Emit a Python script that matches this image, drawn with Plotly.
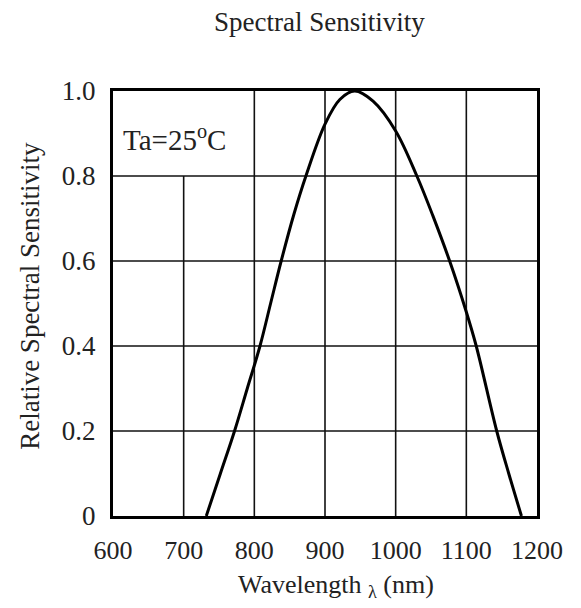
import plotly.graph_objects as go

# Data
wavelength = [732, 752, 772, 790, 808, 823, 838, 856, 873, 900, 921, 942, 968, 1000,
              1030, 1053, 1077, 1100, 1114, 1143, 1160, 1178]
sensitivity = [0.0, 0.1, 0.2, 0.3, 0.4, 0.5, 0.6, 0.71, 0.8, 0.922, 0.98, 1.0, 0.976, 0.906,
               0.8, 0.705, 0.597, 0.48, 0.4, 0.2, 0.1, 0.0]

x_ticks = [600, 700, 800, 900, 1000, 1100, 1200]
x_tick_labels = ["600", "700", "800", "900", "1000", "1100", "1200"]
y_ticks = [0, 0.2, 0.4, 0.6, 0.8, 1.0]
y_tick_labels = ["0", "0.2", "0.4", "0.6", "0.8", "1.0"]

FONT = "Liberation Serif"
TXT = "#222222"

fig = go.Figure()
fig.add_trace(go.Scatter(
    x=wavelength, y=sensitivity, mode="lines",
    line=dict(color="black", width=3, shape="spline", smoothing=1.0),
    hoverinfo="skip", showlegend=False,
))

shapes = []
for xv in x_ticks[1:-1]:
    top = 0.8 if xv == 700 else 1.0
    shapes.append(dict(type="line", xref="x", yref="y", x0=xv, x1=xv, y0=0, y1=top,
                       line=dict(color="#111111", width=1.6), layer="below"))
for yv in y_ticks[1:-1]:
    shapes.append(dict(type="line", xref="x", yref="y", x0=600, x1=1200, y0=yv, y1=yv,
                       line=dict(color="#111111", width=1.6), layer="below"))

fig.update_layout(
    width=573, height=600,
    margin=dict(l=105, r=44, t=83, b=92),
    paper_bgcolor="white", plot_bgcolor="white",
    shapes=shapes,
    showlegend=False,
    font=dict(family=FONT, color=TXT),
    xaxis=dict(range=[600, 1200], tickvals=x_ticks, ticktext=x_tick_labels,
               showgrid=False, zeroline=False, showline=True, mirror=True,
               linecolor="black", linewidth=3, ticks="", ticklabelstandoff=9,
               tickfont=dict(family=FONT, size=26, color=TXT)),
    yaxis=dict(range=[0, 1.0], tickvals=y_ticks, ticktext=y_tick_labels,
               showgrid=False, zeroline=False, showline=True, mirror=True,
               linecolor="black", linewidth=3, ticks="", ticklabelstandoff=9,
               tickfont=dict(family=FONT, size=27, color=TXT)),
    annotations=[
        dict(text="Spectral Sensitivity", xref="paper", yref="paper", x=0.488, y=1.0,
             yshift=69, showarrow=False, xanchor="center", yanchor="middle",
             font=dict(family=FONT, size=27, color=TXT)),
        dict(text="Relative Spectral Sensitivity", xref="paper", yref="paper", x=0, y=0.518,
             xshift=-83, showarrow=False, textangle=-90, xanchor="center", yanchor="middle",
             font=dict(family=FONT, size=27, color=TXT)),
        dict(text="Wavelength <sub>λ</sub> (nm)", xref="paper", yref="paper", x=0.525, y=0,
             yshift=-70, showarrow=False, xanchor="center", yanchor="middle",
             font=dict(family=FONT, size=26, color=TXT)),
        dict(text="Ta=25<sup>o</sup>C", xref="x", yref="y", x=611, y=0.89,
             showarrow=False, xanchor="left", yanchor="middle",
             font=dict(family=FONT, size=29, color=TXT)),
    ],
)

fig.write_html("out.html")
